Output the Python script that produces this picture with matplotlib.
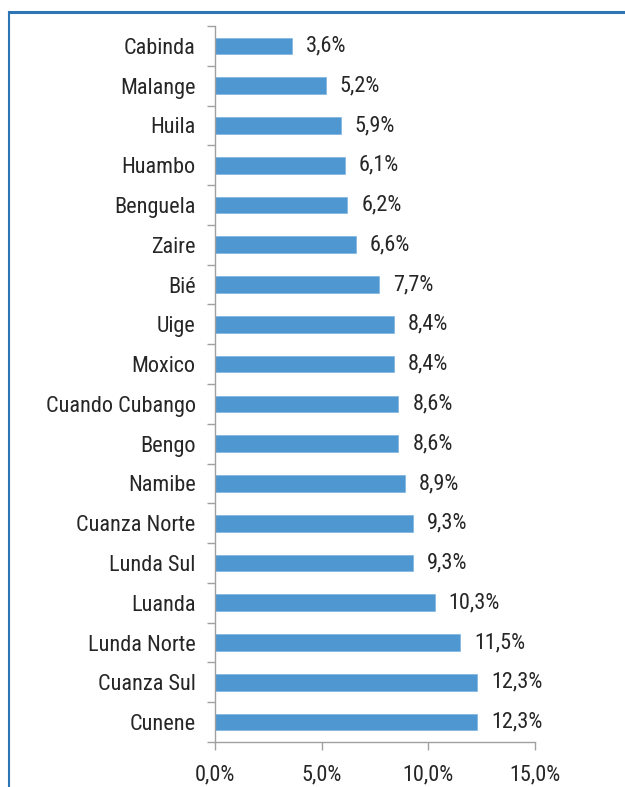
import matplotlib
matplotlib.use("Agg")
import matplotlib.pyplot as plt
from matplotlib import font_manager as fm
from matplotlib.lines import Line2D

provinces = ["Cabinda", "Malange", "Huila", "Huambo", "Benguela", "Zaire", "Bié", "Uige",
             "Moxico", "Cuando Cubango", "Bengo", "Namibe", "Cuanza Norte", "Lunda Sul",
             "Luanda", "Lunda Norte", "Cuanza Sul", "Cunene"]
values = [3.6, 5.2, 5.9, 6.1, 6.2, 6.6, 7.7, 8.4, 8.4, 8.6, 8.6, 8.9, 9.3, 9.3, 10.3, 11.5, 12.3, 12.3]
xticks = [0, 5, 10, 15]
xtick_labels = ["0,0%", "5,0%", "10,0%", "15,0%"]

# look for a narrow / condensed face
cands = []
for f in fm.fontManager.ttflist:
    nm = (f.name + " " + f.fname).lower()
    if f.style != "normal" or f.weight not in (400, "normal", "regular"):
        continue
    if "narrow" in nm or "condensed" in nm or str(f.stretch) in ("condensed", "semi-condensed", "575", "500"):
        cands.append(f)
pref = ["liberation", "roboto", "open", "noto", "dejavu"]
cands.sort(key=lambda f: next((i for i, p in enumerate(pref) if p in f.fname.lower()), 99))
if cands:
    fp = fm.FontProperties(fname=cands[0].fname)
else:
    fp = fm.FontProperties(family="Liberation Sans")

fig = plt.figure(figsize=(6.25, 7.87), dpi=100)
ax = fig.add_axes([215/625, 1-742/787, 320/625, 716/787])

n = len(provinces)
ypos = list(range(n))
ax.barh(ypos, values, height=0.42, color="#4F97D1", edgecolor="#7FB4E0", linewidth=0.5)
ax.set_ylim(n - 0.5, -0.5)
ax.set_xlim(0, 15)
ax.set_yticks(ypos)
ax.set_yticklabels(provinces, fontproperties=fp, fontsize=16, color="#262626")
ax.tick_params(axis="y", length=0, pad=14)
ax.set_yticks([i - 0.5 for i in range(n + 1)], minor=True)
ax.tick_params(axis="y", which="minor", length=6, color="#A0A0A0", width=1)
ax.set_xticks(xticks)
ax.set_xticklabels(xtick_labels, fontproperties=fp, fontsize=16, color="#262626")
ax.tick_params(axis="x", length=6, color="#A0A0A0", width=1, pad=10)
for s in ["top", "right"]:
    ax.spines[s].set_visible(False)
for s in ["left", "bottom"]:
    ax.spines[s].set_color("#A0A0A0")
    ax.spines[s].set_linewidth(1)

for y, v in zip(ypos, values):
    ax.annotate(f"{v:.1f}%".replace(".", ","), (v, y), xytext=(10, 0),
                textcoords="offset points", va="center", ha="left",
                fontproperties=fp, fontsize=16, color="#262626")

# frame lines
fig.add_artist(Line2D([9/625, 1], [1-12/787, 1-12/787], color="#2E75B6", lw=2.2, transform=fig.transFigure))
fig.add_artist(Line2D([9/625, 9/625], [0, 1-12/787], color="#2E75B6", lw=1.5, transform=fig.transFigure))

fig.savefig("out.png", dpi=100)
